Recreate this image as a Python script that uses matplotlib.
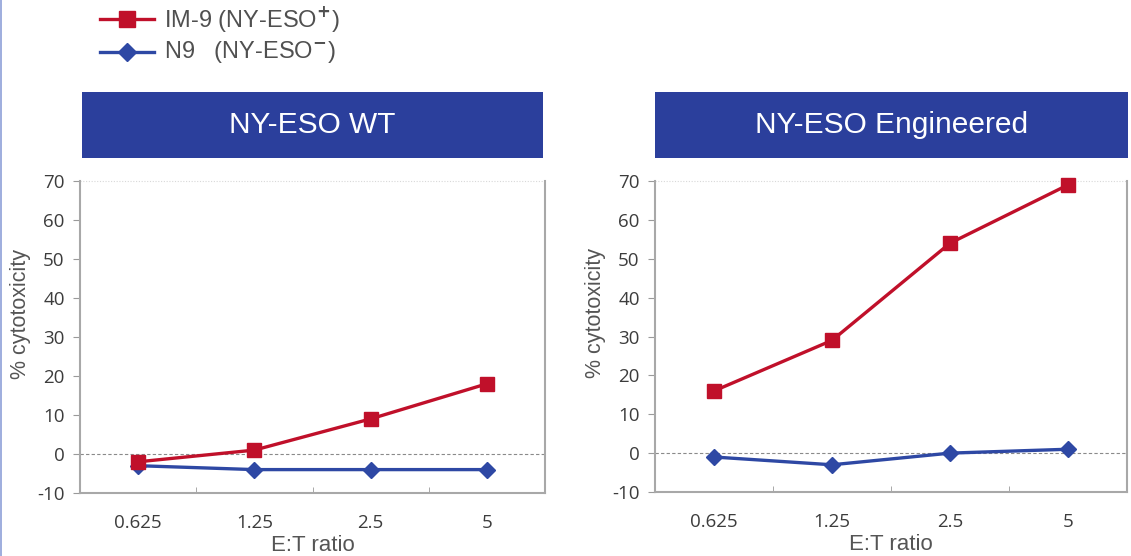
import matplotlib
matplotlib.use("Agg")
import matplotlib.pyplot as plt
import matplotlib.patheffects as pe
from matplotlib.lines import Line2D
from matplotlib.patches import Rectangle

plt.rcParams["axes.unicode_minus"] = False

# Data
ratios = ["0.625", "1.25", "2.5", "5"]
panel_titles = ["NY-ESO WT", "NY-ESO Engineered"]
im9_wt = [-2, 1, 9, 18]
n9_wt = [-3, -4, -4, -4]
im9_eng = [16, 29, 54, 69]
n9_eng = [-1, -3, 0, 1]
yticks = [-10, 0, 10, 20, 30, 40, 50, 60, 70]

RED = "#C0102A"
BLUE = "#2E48A4"
HEADER = "#2B3F9C"
GRAY_TXT = "#555555"
TICK_TXT = "#3c3c3c"

fig = plt.figure(figsize=(11.31, 5.56), dpi=100)
W, H = 1131, 556


def px_axes(x0, y0, x1, y1):
    return fig.add_axes([x0 / W, 1 - y1 / H, (x1 - x0) / W, (y1 - y0) / H])


panels = [
    dict(ax=(80, 181, 545, 493), hdr=(82, 92, 543, 158), ylab_x=21,
         im9=im9_wt, n9=n9_wt, title=panel_titles[0]),
    dict(ax=(655, 181, 1127, 492), hdr=(655, 92, 1128, 158), ylab_x=596,
         im9=im9_eng, n9=n9_eng, title=panel_titles[1]),
]

shadow = [pe.SimplePatchShadow(offset=(2, -2), shadow_rgbFace="#8a8a8a", alpha=0.9),
          pe.Normal()]

for p in panels:
    x0, y0, x1, y1 = p["ax"]
    ax = px_axes(x0, y0, x1, y1)
    xs = range(len(ratios))
    ax.axhline(0, color="#8a8a8a", lw=0.8, ls=(0, (3, 2)), zorder=1)
    ax.axhline(70, color="#d8d8d8", lw=0.8, ls=(0, (1, 1.5)), zorder=1, clip_on=False)
    ax.plot(xs, p["n9"], color=BLUE, lw=2.4, marker="D", ms=8.5,
            mec=BLUE, mfc=BLUE, zorder=3, clip_on=False)
    ax.plot(xs, p["im9"], color=RED, lw=2.4, marker="s", ms=10,
            mec=RED, mfc=RED, zorder=4, clip_on=False)
    ax.set_xlim(-0.5, len(ratios) - 0.5)
    ax.set_ylim(-10, 70)
    ax.set_yticks(yticks)
    ax.set_xticks(list(xs))
    ax.set_xticklabels(ratios)
    ax.set_xticks([0.5, 1.5, 2.5], minor=True)
    ax.tick_params(axis="x", which="major", length=0, pad=15,
                   labelsize=13.5, labelcolor=TICK_TXT)
    ax.tick_params(axis="x", which="minor", length=4, color="#9a9a9a", direction="in")
    ax.tick_params(axis="y", length=5, color="#9a9a9a", direction="out",
                   labelsize=13.5, labelcolor=TICK_TXT, pad=6)
    for lab in ax.get_xticklabels() + ax.get_yticklabels():
        lab.set_family(["Open Sans", "DejaVu Sans"])
    ax.spines["top"].set_visible(False)
    for side in ("left", "bottom", "right"):
        ax.spines[side].set_color("#a8a8a8")
        ax.spines[side].set_linewidth(1.5)
    ax.spines["bottom"].set_path_effects(shadow)
    ax.spines["right"].set_path_effects(shadow)
    ax.set_xlabel("E:T ratio", fontsize=16, color=GRAY_TXT,
                  family=["Liberation Sans", "DejaVu Sans"], labelpad=2)
    ax.set_facecolor("white")
    # y label
    fig.text(p["ylab_x"] / W, 1 - ((y0 + y1) / 2 - 23) / H, "% cytotoxicity",
             rotation=90, ha="center", va="center", fontsize=15.5, color=GRAY_TXT,
             family=["Liberation Sans", "DejaVu Sans"])
    # header band
    hx0, hy0, hx1, hy1 = p["hdr"]
    fig.patches.append(Rectangle((hx0 / W, 1 - hy1 / H), (hx1 - hx0) / W, (hy1 - hy0) / H,
                                 transform=fig.transFigure, facecolor=HEADER,
                                 edgecolor="none"))
    fig.text((hx0 + hx1) / 2 / W, 1 - (hy0 + hy1) / 2 / H, p["title"], color="white",
             ha="center", va="center", fontsize=21.5,
             family=["Liberation Sans", "DejaVu Sans"])

# legend
leg_items = [
    (RED, "s", 10, r"IM-9 (NY-ESO$^{\mathbf{+}}$)", 19),
    (BLUE, "D", 8.5, r"N9   (NY-ESO$^{\mathbf{-}}$)", 52),
]
for color, mk, ms, label, ypx in leg_items:
    yy = 1 - ypx / H
    fig.add_artist(Line2D([100 / W, 154 / W], [yy, yy], color=color, lw=2.4,
                          transform=fig.transFigure))
    fig.add_artist(Line2D([127 / W], [yy], color=color, marker=mk, ms=ms + 1,
                          transform=fig.transFigure))
    fig.text(164 / W, yy, label, color="#505050", fontsize=17, va="center",
             ha="left", family=["Liberation Sans", "DejaVu Sans"])

# thin frame line on the left edge
fig.add_artist(Line2D([0.5 / W, 0.5 / W], [0, 1], color="#8da0d8", lw=1.2,
                      transform=fig.transFigure))

fig.savefig("out.png", dpi=100, facecolor="white")
